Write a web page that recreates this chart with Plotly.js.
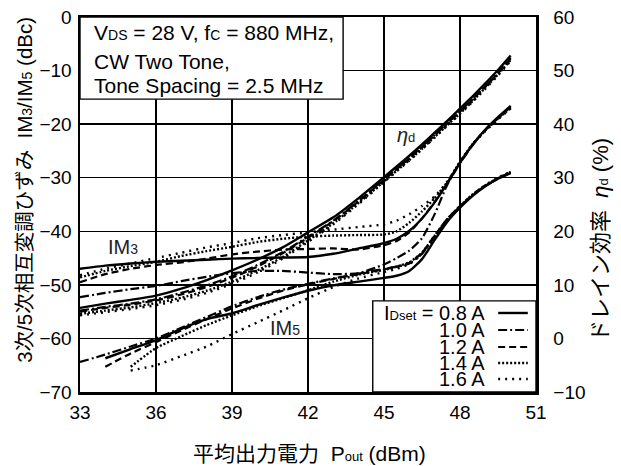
<!DOCTYPE html>
<html>
<head>
<meta charset="utf-8">
<script src="https://cdn.plot.ly/plotly-3.0.1.min.js"></script>
<style>html,body{margin:0;padding:0;background:#fff;}#chart{width:621px;height:466px;}</style>
</head>
<body>
<div id="chart"></div>
<script>
// Average output power Pout (dBm)
const X = [33,34,35,36,37,38,39,40,41,42,43,44,45,45.5,46,46.5,47,47.5,48,48.5,49,49.5,50];

// IM3 (dBc), left axis
const im3_08 = [-47.0,-46.4,-46.0,-45.7,-45.5,-45.3,-45.1,-45.0,-44.9,-44.8,-44.2,-43.2,-42.2,-41.4,-39.9,-37.6,-34.6,-31.0,-27.2,-23.8,-21.0,-18.7,-16.6];
const im3_10 = [-52.3,-51.5,-50.8,-50.2,-49.3,-48.5,-47.8,-47.4,-47.4,-47.7,-48.0,-47.8,-46.2,-45.0,-43.6,-41.3,-36.8,-31.3,-27.3,-23.9,-21.1,-18.8,-16.8];
const im3_12 = [-49.5,-48.0,-47.0,-46.3,-45.8,-45.1,-44.3,-43.8,-43.4,-43.3,-43.2,-43.4,-42.6,-41.8,-40.2,-37.6,-34.5,-31.0,-27.3,-23.9,-21.1,-18.9,-16.9];
const im3_14 = [-48.6,-47.4,-46.5,-45.7,-44.6,-43.7,-42.9,-42.0,-41.4,-41.0,-40.8,-40.7,-40.6,-40.0,-38.4,-36.3,-33.8,-30.8,-27.0,-23.7,-21.2,-19.0,-17.0];
const im3_16 = [-48.2,-47.0,-46.0,-45.0,-44.0,-43.0,-42.2,-41.3,-40.7,-40.2,-39.7,-39.2,-38.7,-38.0,-36.8,-35.3,-33.5,-30.7,-27.1,-23.8,-21.3,-19.1,-17.1];

// IM5 (dBc), left axis
const im5_08 = [null,-63.7,-62.0,-60.3,-58.2,-56.4,-55.3,-53.8,-52.4,-51.1,-50.1,-49.4,-48.7,-48.3,-47.4,-45.2,-41.6,-38.2,-35.6,-33.4,-31.6,-30.2,-29.1];
const im5_10 = [-64.4,-63.0,-61.5,-60.0,-58.0,-56.0,-54.0,-52.3,-50.9,-49.8,-48.8,-47.9,-47.0,-46.6,-46.0,-44.2,-41.0,-37.8,-35.4,-33.2,-31.5,-30.2,-29.1];
const im5_12 = [null,-65.3,-62.8,-60.7,-58.5,-56.4,-54.4,-52.6,-51.1,-49.9,-48.9,-48.0,-47.1,-46.6,-45.9,-44.0,-40.8,-37.7,-35.3,-33.2,-31.5,-30.1,-29.0];
const im5_14 = [null,null,-65.3,-61.8,-59.6,-57.5,-55.7,-54.0,-52.5,-51.0,-49.4,-48.1,-47.2,-46.6,-45.8,-44.0,-40.8,-37.7,-35.3,-33.1,-31.4,-30.1,-28.9];
const im5_16 = [null,null,-66.0,-65.0,-63.3,-61.5,-59.2,-57.0,-54.8,-52.5,-50.4,-48.8,-47.6,-47.0,-46.1,-44.2,-41.0,-37.8,-35.4,-33.2,-31.4,-30.0,-28.9];

// Drain efficiency (%), right axis
const eta_08 = [5.7,6.5,7.2,8.0,9.3,10.9,12.7,14.7,17.0,19.8,22.6,26.2,30.1,32.1,34.1,36.2,38.4,40.6,42.9,45.2,47.6,50.1,52.8];
const eta_10 = [5.2,5.9,6.5,7.3,8.5,9.9,11.6,13.7,16.1,19.0,22.0,25.7,29.7,31.7,33.7,35.8,38.0,40.2,42.4,44.7,47.1,49.6,52.4];
const eta_12 = [5.0,5.7,6.3,7.1,8.2,9.6,11.3,13.4,15.9,18.8,21.9,25.6,29.6,31.6,33.6,35.7,37.9,40.1,42.3,44.6,47.0,49.5,52.2];
const eta_14 = [4.6,5.2,5.8,6.6,7.6,8.9,10.6,12.7,15.2,18.3,21.5,25.3,29.3,31.3,33.3,35.4,37.6,39.8,42.0,44.3,46.8,49.3,52.0];
const eta_16 = [4.3,4.9,5.5,6.2,7.2,8.5,10.2,12.3,14.9,18.0,21.3,25.1,29.2,31.2,33.2,35.3,37.5,39.7,41.9,44.2,46.6,49.1,51.8];

const biasLabels = ["0.8 A","1.0 A","1.2 A","1.4 A","1.6 A"];
const xTicks = [33,36,39,42,45,48,51];

const styles = [
  {dash:"solid", w:2.4},
  {dash:"9px,3px,2px,3px", w:2.2},
  {dash:"7px,4px", w:2.2},
  {dash:"2px,2px", w:2.4},
  {dash:"2px,5px", w:2.4}
];
const im3 = [im3_08, im3_10, im3_12, im3_14, im3_16];
const im5 = [im5_08, im5_10, im5_12, im5_14, im5_16];
const eta = [eta_08, eta_10, eta_12, eta_14, eta_16];

const FONT = "Liberation Sans, Arial, Noto Sans CJK JP, sans-serif";
const traces = [];
for (let i = 0; i < 5; i++) {
  const ln = {color:"black", width:styles[i].w, dash:styles[i].dash, shape:"spline", smoothing:0.6};
  traces.push({x:X, y:im3[i], yaxis:"y", mode:"lines", line:ln, showlegend:false, hoverinfo:"skip"});
  traces.push({x:X, y:im5[i], yaxis:"y", mode:"lines", line:ln, showlegend:false, hoverinfo:"skip"});
  traces.push({x:X, y:eta[i], yaxis:"y2", mode:"lines", line:ln, showlegend:false, hoverinfo:"skip"});
}

// custom legend (text left, line sample right)
const rowY = [0.2107, 0.1653, 0.12, 0.0773, 0.0347];
const shapes = [
  {type:"rect", xref:"paper", yref:"paper", x0:0, x1:0.577, y0:0.781, y1:1, fillcolor:"white", line:{color:"black", width:1.4}, layer:"above"},
  {type:"rect", xref:"paper", yref:"paper", x0:0.642, x1:1, y0:0, y1:0.243, fillcolor:"white", line:{color:"black", width:1.4}, layer:"above"}
];
const annotations = [];
for (let i = 0; i < 5; i++) {
  shapes.push({type:"line", xref:"paper", yref:"paper", x0:0.917, x1:0.982, y0:rowY[i], y1:rowY[i],
    line:{color:"black", width:styles[i].w, dash:styles[i].dash}, layer:"above"});
  const txt = (i === 0 ? "I<span style='font-size:13px'>Dset</span> = " : "") + biasLabels[i];
  annotations.push({xref:"paper", yref:"paper", x:0.8925, y:rowY[i], xanchor:"right", yanchor:"middle",
    text:txt, showarrow:false, font:{family:FONT, size:20, color:"black"}});
}
const condLines = [
  "V<span style='font-size:14px'>DS</span> = 28 V, f<span style='font-size:14px'>C</span> = 880 MHz,",
  "CW Two Tone,",
  "Tone Spacing = 2.5 MHz"
];
const condY = [0.958, 0.882, 0.818];
condLines.forEach((t, i) => annotations.push({xref:"paper", yref:"paper", x:0.026, y:condY[i], xanchor:"left", yanchor:"middle",
  text:t, showarrow:false, font:{family:FONT, size:21, color:"black"}}));

// curve labels
annotations.push({xref:"x", yref:"y", x:45.85, y:-22, text:"<i>η</i><span style='font-size:13px'>d</span>", showarrow:false, font:{family:FONT, size:20, color:"#222"}});
annotations.push({xref:"x", yref:"y", x:34.7, y:-43, text:"IM<span style='font-size:14px'>3</span>", showarrow:false, font:{family:FONT, size:20, color:"#222"}});
annotations.push({xref:"x", yref:"y", x:41.1, y:-58, text:"IM<span style='font-size:14px'>5</span>", showarrow:false, font:{family:FONT, size:20, color:"#222"}});

// axis titles
annotations.push({xref:"paper", yref:"paper", x:0.504, y:-0.163, xanchor:"center", yanchor:"middle", showarrow:false,
  text:"平均出力電力  P<span style='font-size:13px'>out</span> (dBm)", font:{family:FONT, size:21, color:"black"}});
annotations.push({xref:"paper", yref:"paper", x:-0.122, y:0.54, xanchor:"center", yanchor:"middle", textangle:-90, showarrow:false,
  text:"3次/5次相互変調ひずみ  IM<span style='font-size:14px'>3</span>/IM<span style='font-size:14px'>5</span> (dBc)", font:{family:FONT, size:20.5, color:"black"}});
annotations.push({xref:"paper", yref:"paper", x:1.14, y:0.405, xanchor:"center", yanchor:"middle", textangle:-90, showarrow:false,
  text:"ドレイン効率  <i>η</i><span style='font-size:13px'>d</span> (%)", font:{family:FONT, size:22, color:"black"}});

const axisCommon = {showline:true, linecolor:"black", linewidth:2.5, ticks:"", zeroline:false,
  tickfont:{family:FONT, size:19, color:"black"}, fixedrange:true};

const layout = {
  width:621, height:466,
  margin:{l:80, r:85, t:17, b:74, pad:0},
  paper_bgcolor:"white", plot_bgcolor:"white",
  showlegend:false,
  xaxis:Object.assign({}, axisCommon, {range:[33,51], tickvals:xTicks, mirror:true, showgrid:true, gridcolor:"black", gridwidth:1.5, ticklabelstandoff:2}),
  yaxis:Object.assign({}, axisCommon, {range:[-70,0], tick0:0, dtick:10, mirror:true, showgrid:true, gridcolor:"black", gridwidth:1.5, ticklabelstandoff:2}),
  yaxis2:Object.assign({}, axisCommon, {range:[-10,60], tick0:0, dtick:10, overlaying:"y", side:"right", showgrid:false, ticklabelstandoff:11}),
  shapes:shapes,
  annotations:annotations
};

Plotly.newPlot("chart", traces, layout, {staticPlot:true, displayModeBar:false});
</script>
</body>
</html>
